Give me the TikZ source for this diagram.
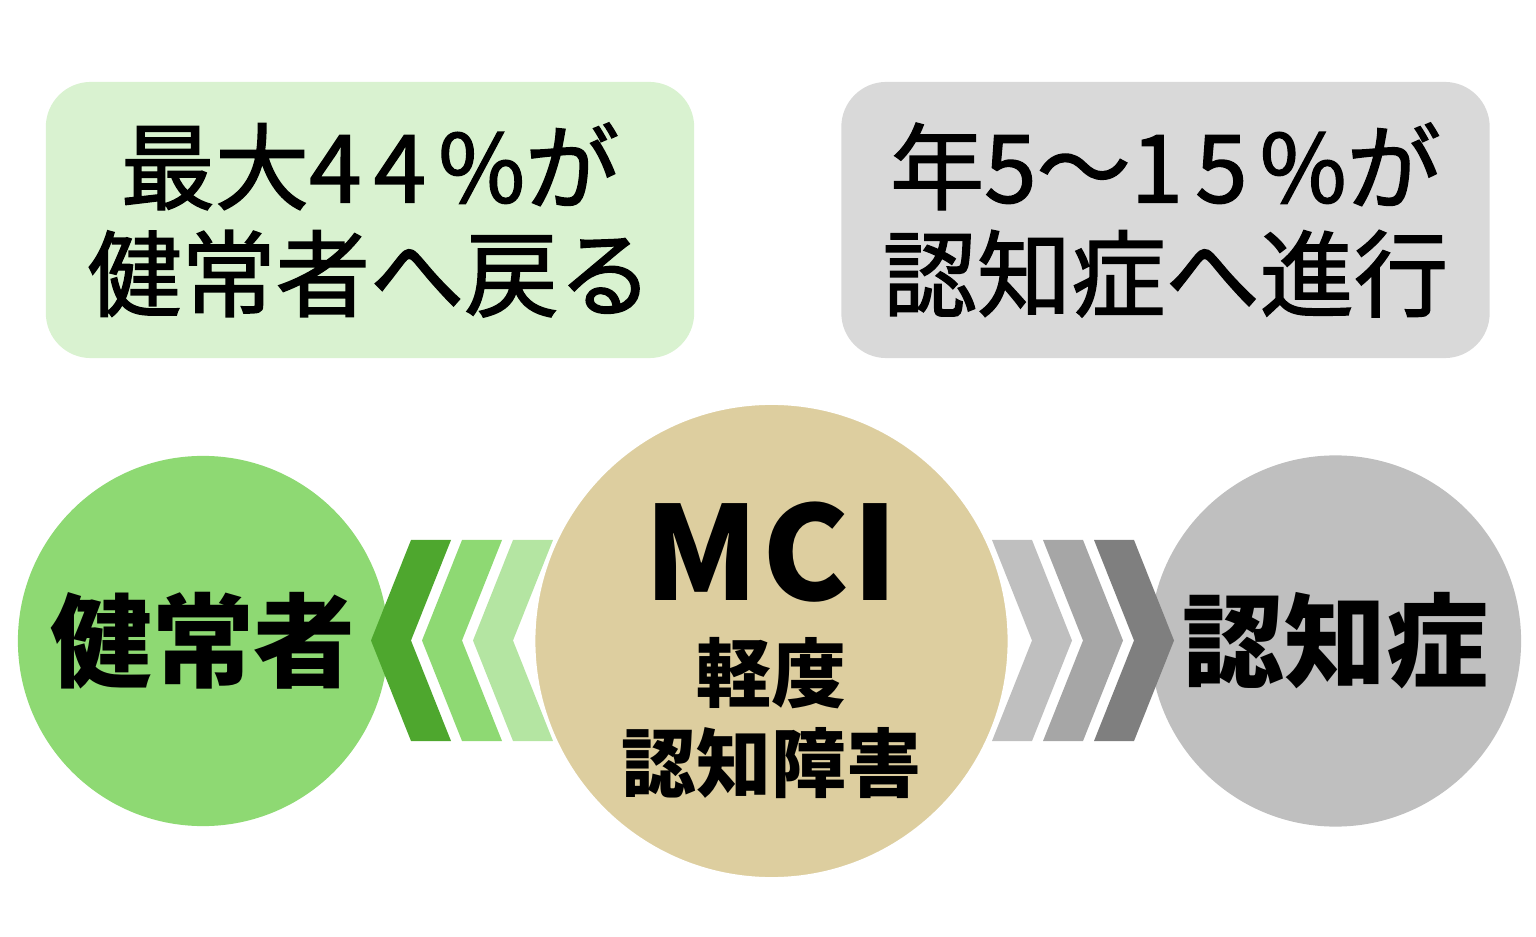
\documentclass[tikz,border=0pt]{standalone}
\usepackage{fontspec}
\setmainfont{Noto Sans CJK JP}
\usetikzlibrary{positioning}
\usepackage{xcolor}
\definecolor{boxgreen}{HTML}{D9F2D0}
\definecolor{boxgray}{HTML}{D9D9D9}
\definecolor{healthygreen}{HTML}{8ED973}
\definecolor{mcitan}{HTML}{DDCE9F}
\definecolor{dementiagray}{HTML}{BFBFBF}
\definecolor{chevgreen1}{HTML}{4EA72E}
\definecolor{chevgreen2}{HTML}{8ED973}
\definecolor{chevgreen3}{HTML}{B4E5A2}
\definecolor{chevgray1}{HTML}{BFBFBF}
\definecolor{chevgray2}{HTML}{A6A6A6}
\definecolor{chevgray3}{HTML}{7F7F7F}
\newcommand{\wide}[1]{{\addfontfeature{LetterSpace=13}#1}}

\begin{document}
\begin{tikzpicture}[
x=0.01cm, y=-0.01cm,
box/.style={rectangle, rounded corners=0.45cm,
minimum width=6.48cm, minimum height=2.76cm,
align=center, font=\fontsize{26.8}{30.4}\selectfont\addfontfeature{FakeBold=1.5}},
disc/.style={circle, inner sep=0pt, align=center,
font=\bfseries\fontsize{29}{33}\selectfont}
]
\useasboundingbox (0,0) rectangle (1536,937);

\node[box, fill=boxgreen] (back) at (370,220) {最大\wide{44\%}が\\健常者へ戻る};
\node[box, fill=boxgray] (prog) at (1165.5,220) {年\wide{5}～\wide{15\%}が\\認知症へ進行};

\node[disc, fill=healthygreen, minimum size=3.7cm] (healthy) at (203,641) {健常者};
\node[disc, fill=dementiagray, minimum size=3.71cm] (dementia) at (1335.5,641) {認知症};

% chevrons
\foreach \i/\c in {0/chevgreen1, 1/chevgreen2, 2/chevgreen3}
  \fill[\c] ({451+51*\i},540) -- ({411+51*\i},540) -- ({371+51*\i},640.5)
    -- ({411+51*\i},741) -- ({451+51*\i},741) -- ({411+51*\i},640.5) -- cycle;
\foreach \i/\c in {0/chevgray1, 1/chevgray2, 2/chevgray3}
  \fill[\c] ({992+51*\i},540) -- ({1032+51*\i},540) -- ({1072+51*\i},640.5)
    -- ({1032+51*\i},741) -- ({992+51*\i},741) -- ({1032+51*\i},640.5) -- cycle;

\node[disc, fill=mcitan, draw=white, line width=0.6pt, minimum size=4.74cm] (mci) at (771.5,641) {};
\node[font=\bfseries\fontsize{37}{40}\selectfont] (mcititle) at (771.5,552) {M\kern1pt C\kern1pt I};
\node[align=center, font=\bfseries\fontsize{21.3}{25.6}\selectfont] (mcisub) at (771.5,718) {軽度\\認知障害};

\end{tikzpicture}
\end{document}
